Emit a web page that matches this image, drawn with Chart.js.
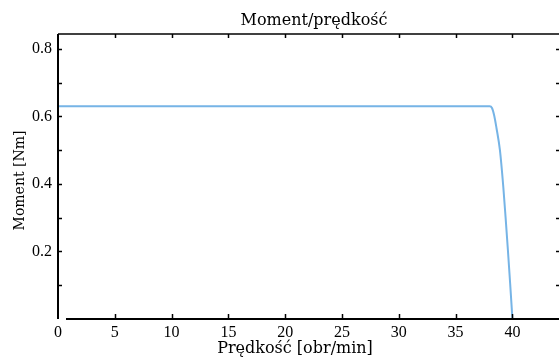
<!DOCTYPE html>
<html>
<head>
<meta charset="utf-8">
<script src="https://cdn.jsdelivr.net/npm/chart.js@4.4.0/dist/chart.umd.min.js"></script>
<style>
html,body{margin:0;padding:0;background:#fff;}
#wrap{width:559px;height:361px;}
</style>
</head>
<body>
<div id="wrap"><canvas id="c" width="559" height="361"></canvas></div>
<script>
const chartTitle = "Moment/prędkość";
const xTitle = "Prędkość [obr/min]";
const yTitle = "Moment [Nm]";
const speed  = [0, 38.0, 38.2, 38.4, 38.6, 38.9, 39.2, 39.4, 39.6, 39.8, 40.0];
const torque = [0.63, 0.63, 0.625, 0.602, 0.565, 0.50, 0.39, 0.30, 0.205, 0.105, 0];
const xTicks = [0, 5, 10, 15, 20, 25, 30, 35, 40];
const yTicks = [0.2, 0.4, 0.6, 0.8];
const yMinorTicks = [0.1, 0.3, 0.5, 0.7];
const xMin = 0, xMax = 44.1, yMin = 0, yMax = 0.844;

const tickFont = "'Liberation Serif', serif";
const titleFont = "'DejaVu Serif', serif";

const framePlugin = {
  id: 'frame',
  afterDraw(chart) {
    const ctx = chart.ctx;
    const xs = chart.scales.x, ys = chart.scales.y;
    const a = chart.chartArea;
    ctx.save();
    ctx.strokeStyle = '#000';
    ctx.fillStyle = '#000';
    ctx.lineWidth = 2;
    ctx.beginPath();
    ctx.moveTo(a.left, a.top); ctx.lineTo(a.left, a.bottom);
    ctx.stroke();
    ctx.beginPath();
    ctx.moveTo(a.left + 8, a.bottom); ctx.lineTo(a.right, a.bottom);
    ctx.stroke();
    ctx.lineWidth = 1.5;
    ctx.beginPath();
    ctx.moveTo(a.left, a.top); ctx.lineTo(a.right, a.top);
    ctx.stroke();
    xTicks.forEach(v => {
      if (v === 0) return;
      const px = Math.round(xs.getPixelForValue(v)) + 0.5;
      ctx.beginPath(); ctx.moveTo(px, a.bottom); ctx.lineTo(px, a.bottom - 5); ctx.stroke();
      ctx.beginPath(); ctx.moveTo(px, a.top); ctx.lineTo(px, a.top + 4); ctx.stroke();
    });
    yTicks.concat(yMinorTicks).forEach(v => {
      const py = Math.round(ys.getPixelForValue(v)) + 0.5;
      ctx.beginPath(); ctx.moveTo(a.left, py); ctx.lineTo(a.left + 4, py); ctx.stroke();
    });
    const rx = xs.getPixelForValue(xMax);
    yTicks.concat(yMinorTicks).forEach(v => {
      const py = Math.round(ys.getPixelForValue(v)) + 0.5;
      ctx.beginPath(); ctx.moveTo(rx, py); ctx.lineTo(rx - 3, py); ctx.stroke();
    });

    // titles
    ctx.textAlign = 'center';
    ctx.textBaseline = 'alphabetic';
    ctx.font = "16px " + titleFont;
    ctx.fillText(chartTitle, a.left + 256, 25);
    ctx.fillText(xTitle, a.left + 237, 353);
    ctx.save();
    ctx.translate(24, (a.top + a.bottom) / 2 + 4);
    ctx.rotate(-Math.PI / 2);
    ctx.font = "14px " + titleFont;
    ctx.fillText(yTitle, 0, 0);
    ctx.restore();
    ctx.restore();
  }
};

new Chart(document.getElementById('c'), {
  type: 'line',
  data: {
    datasets: [{
      data: speed.map((x, i) => ({x: x, y: torque[i]})),
      borderColor: 'rgb(118,180,230)',
      borderWidth: 2,
      pointRadius: 0,
      cubicInterpolationMode: 'monotone',
      fill: false
    }]
  },
  options: {
    responsive: false,
    animation: false,
    layout: {padding: {left: 0, right: 0, top: 34, bottom: 0}},
    plugins: {
      legend: {display: false},
      tooltip: {enabled: false},
      title: {display: false}
    },
    scales: {
      x: {
        type: 'linear',
        min: xMin, max: xMax,
        afterBuildTicks: s => { s.ticks = xTicks.map(v => ({value: v})); },
        afterFit: s => { s.height = 42; },
        grid: {display: false, drawTicks: false},
        border: {display: false},
        ticks: {color: '#000', font: {family: tickFont, size: 16}, padding: 4, maxRotation: 0, autoSkip: false,
                callback: v => String(v)},
        title: {display: false}
      },
      y: {
        type: 'linear',
        min: yMin, max: yMax,
        afterBuildTicks: s => { s.ticks = yTicks.map(v => ({value: v})); },
        afterFit: s => { s.width = 58; },
        grid: {display: false, drawTicks: false},
        border: {display: false},
        ticks: {color: '#000', font: {family: tickFont, size: 16}, padding: 6,
                callback: v => v.toFixed(1)},
        title: {display: false}
      }
    }
  },
  plugins: [framePlugin]
});
</script>
</body>
</html>
